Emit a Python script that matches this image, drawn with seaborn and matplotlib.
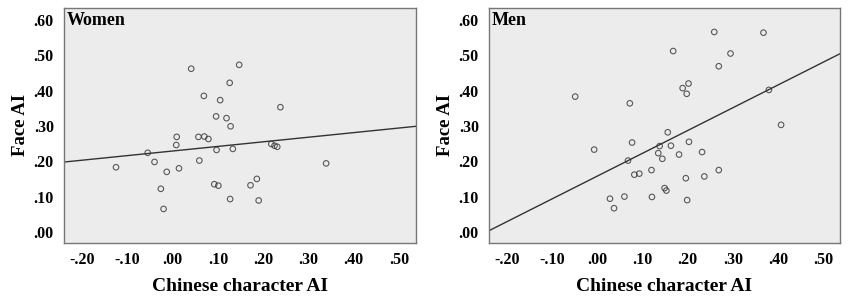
import numpy as np
import pandas as pd
import seaborn as sns
import matplotlib
matplotlib.use("Agg")
import matplotlib.pyplot as plt

sns.set_style("white")
plt.rcParams['font.family'] = ['Liberation Serif', 'DejaVu Serif']
plt.rcParams['text.color'] = 'black'
plt.rcParams['axes.labelcolor'] = 'black'
plt.rcParams['xtick.labelcolor'] = 'black'
plt.rcParams['ytick.labelcolor'] = 'black'

# Chinese character AI (x) vs Face AI (y)
women_x = [-0.125, -0.055, -0.040, -0.026, -0.020, -0.013, 0.008, 0.009, 0.014, 0.041,
           0.057, 0.059, 0.069, 0.070, 0.079, 0.092, 0.096, 0.097, 0.101, 0.105,
           0.119, 0.126, 0.127, 0.128, 0.133, 0.147, 0.172, 0.186, 0.190, 0.218,
           0.225, 0.231, 0.238, 0.339]
women_y = [0.183, 0.224, 0.198, 0.122, 0.065, 0.170, 0.246, 0.269, 0.180, 0.462,
           0.269, 0.202, 0.385, 0.270, 0.263, 0.135, 0.327, 0.232, 0.131, 0.373,
           0.322, 0.422, 0.093, 0.299, 0.235, 0.473, 0.132, 0.150, 0.089, 0.249,
           0.244, 0.241, 0.353, 0.194]

men_x = [-0.049, -0.007, 0.028, 0.037, 0.060, 0.068, 0.072, 0.077, 0.082, 0.093,
         0.120, 0.121, 0.135, 0.138, 0.144, 0.149, 0.153, 0.156, 0.163, 0.168,
         0.181, 0.189, 0.196, 0.198, 0.199, 0.202, 0.203, 0.232, 0.237, 0.259,
         0.269, 0.269, 0.295, 0.368, 0.380, 0.407]
men_y = [0.383, 0.233, 0.094, 0.067, 0.100, 0.202, 0.364, 0.253, 0.162, 0.165,
         0.175, 0.099, 0.223, 0.243, 0.207, 0.124, 0.117, 0.282, 0.244, 0.512,
         0.219, 0.407, 0.152, 0.391, 0.090, 0.420, 0.255, 0.226, 0.157, 0.566,
         0.469, 0.175, 0.505, 0.564, 0.402, 0.303]

xticks = [-0.2, -0.1, 0.0, 0.1, 0.2, 0.3, 0.4, 0.5]
yticks = [0.0, 0.1, 0.2, 0.3, 0.4, 0.5, 0.6]


def fmt(v):
    s = "%.2f" % v
    return s.replace("0.", ".", 1)


panels = [("Women", women_x, women_y), ("Men", men_x, men_y)]

fig = plt.figure(figsize=(8.51, 3.01), dpi=100)
W, H = 851, 301
boxes = [(63.5, 8.3, 416, 242.5), (488.5, 8.3, 840, 242.5)]

for (name, xs, ys), (l, t, r, b) in zip(panels, boxes):
    ax = fig.add_axes([l / W, (H - b) / H, (r - l) / W, (b - t) / H])
    df = pd.DataFrame({"x": xs, "y": ys})
    ax.set_xlim(-0.241, 0.5375)
    ax.set_ylim(-0.03, 0.633)
    sns.regplot(data=df, x="x", y="y", ax=ax, ci=None, truncate=False,
                scatter_kws=dict(s=16, facecolors="none", edgecolors="#333333",
                                 linewidths=0.8),
                line_kws=dict(color="#333333", lw=1.0),
                marker="o")
    ax.set_xlim(-0.241, 0.5375)
    ax.set_ylim(-0.03, 0.633)
    ax.set_facecolor("#ececec")
    for sp in ax.spines.values():
        sp.set_color("#777777")
        sp.set_linewidth(1.0)
    ax.set_xticks(xticks)
    ax.set_xticklabels([fmt(v) for v in xticks])
    ax.set_yticks(yticks)
    ax.set_yticklabels([fmt(v) for v in yticks])
    ax.tick_params(axis="both", direction="out", length=4, width=0.8,
                   color="#555555", labelsize=11.5, pad=3)
    for lab in ax.get_xticklabels() + ax.get_yticklabels():
        lab.set_fontweight("bold")
    ax.set_xlabel("Chinese character AI", fontsize=14, fontweight="bold", labelpad=7)
    ax.set_ylabel("Face AI", fontsize=13.5, fontweight="bold", labelpad=3)
    ax.text(0.008, 0.985, name, transform=ax.transAxes, ha="left", va="top",
            fontsize=13, fontweight="bold")

fig.savefig("out.png", dpi=100)
